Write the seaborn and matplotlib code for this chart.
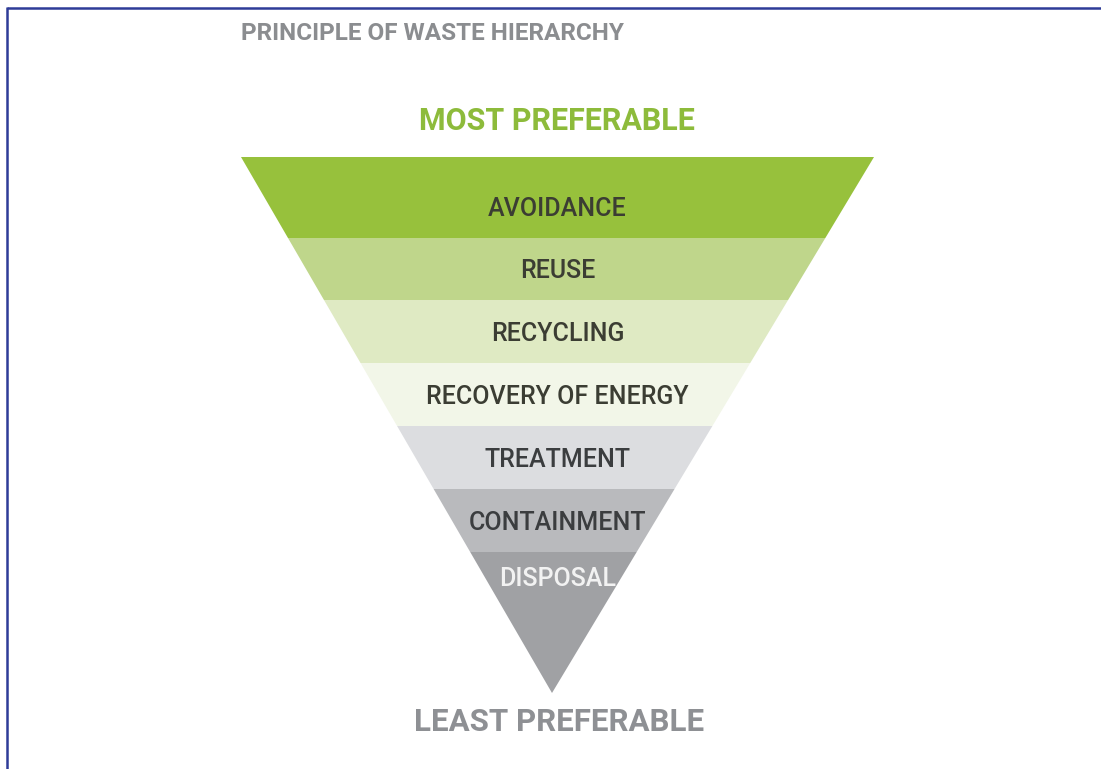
import numpy as np
import seaborn as sns
import matplotlib.pyplot as plt

# ---------- data ----------
categories = ["AVOIDANCE", "REUSE", "RECYCLING", "RECOVERY OF ENERGY",
              "TREATMENT", "CONTAINMENT", "DISPOSAL"]
band_heights = [81, 62, 63, 63, 63, 63, 141]   # depth of each layer in the funnel
band_colors = ["#97c13c", "#bfd68b", "#dfeac3", "#f2f6e8",
               "#dcdde0", "#b9babd", "#a0a1a4"]
text_colors = ["#3b3d33", "#3b3d33", "#3b3d33", "#3b3d33",
               "#3b3d3f", "#3b3d3f", "#f2f2f2"]

# ---------- layout (pixel space) ----------
W, H = 1101, 769
TOP_Y = 157
TOP_L, TOP_R = 241, 874
APEX_X = 552

sns.set_theme(style="white")
plt.rcParams["font.family"] = ["Roboto", "DejaVu Sans"]

fig = plt.figure(figsize=(W / 100, H / 100), dpi=100)
ax = fig.add_axes([0, 0, 1, 1])
ax.set_xlim(0, W)
ax.set_ylim(H, 0)
ax.axis("off")

edges = TOP_Y + np.concatenate([[0], np.cumsum(band_heights)])
depth = edges[-1] - TOP_Y


def x_at(y):
    t = (y - TOP_Y) / depth
    return TOP_L + (APEX_X - TOP_L) * t, TOP_R + (APEX_X - TOP_R) * t


for i, name in enumerate(categories):
    y0, y1 = edges[i], edges[i + 1]
    l0, r0 = x_at(y0)
    l1, r1 = x_at(y1)
    ax.fill([l0, r0, r1, l1], [y0, y0, y1, y1], color=band_colors[i], lw=0)
    ly = y1 - 29 if i < len(categories) - 1 else y0 + 27
    ax.text((TOP_L + TOP_R) / 2, ly, name, ha="center", va="center",
            fontsize=18, fontweight="medium", color=text_colors[i])

ax.text(241, 34, "PRINCIPLE OF WASTE HIERARCHY", ha="left", va="center",
        fontsize=17.5, fontweight="bold", color="#8b8d90")
ax.text(557, 121, "MOST PREFERABLE", ha="center", va="center",
        fontsize=22, fontweight="bold", color="#8dbb3b")
ax.text(559, 722, "LEAST PREFERABLE", ha="center", va="center",
        fontsize=22.5, fontweight="bold", color="#8e9094")

# frame lines
ax.plot([7, 7], [7, H], color="#2e3c98", lw=1.8, solid_capstyle="butt")
ax.plot([7, W], [8, 8], color="#2e3c98", lw=1.8, solid_capstyle="butt")

fig.savefig("out.png", dpi=100)
